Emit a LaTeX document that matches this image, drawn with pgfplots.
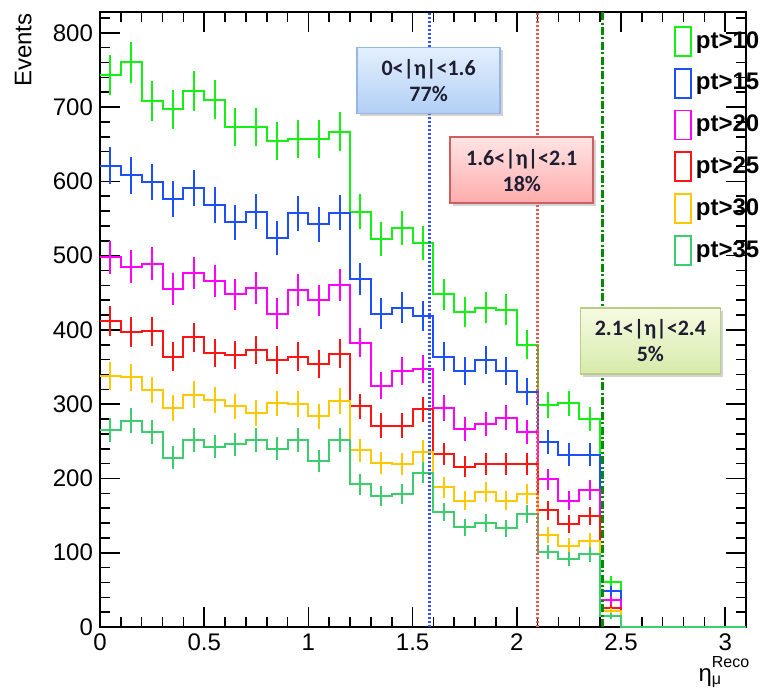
\documentclass[border=0pt]{standalone}
\usepackage{fontspec}
\setmainfont{Liberation Sans}
\newfontfamily\boxfont{Carlito}
\usepackage{pgfplots}
\usepackage{pgfplotstable}
\pgfplotsset{compat=1.18}
\usetikzlibrary{shadows}

\definecolor{c10}{RGB}{20,240,20}
\definecolor{c15}{RGB}{30,80,250}
\definecolor{c20}{RGB}{255,0,255}
\definecolor{c25}{RGB}{255,20,20}
\definecolor{c30}{RGB}{255,200,0}
\definecolor{c35}{RGB}{60,205,110}
\definecolor{lblue}{RGB}{50,80,255}
\definecolor{lred}{RGB}{255,80,80}
\definecolor{lgreen}{RGB}{0,140,0}
\definecolor{boxtext}{RGB}{30,30,50}

% columns: bin low edge, bin centre, entries, error
\pgfplotstableread{
lo c y e
0.0 0.05 743 27.3
0.1 0.15 760 27.6
0.2 0.25 708 26.6
0.3 0.35 697 26.4
0.4 0.45 721 26.9
0.5 0.55 710 26.6
0.6 0.65 673 25.9
0.7 0.75 673 25.9
0.8 0.85 654 25.6
0.9 0.95 657 25.6
1.0 1.05 657 25.6
1.1 1.15 667 25.8
1.2 1.25 559 23.6
1.3 1.35 523 22.9
1.4 1.45 537 23.2
1.5 1.55 517 22.7
1.6 1.65 448 21.2
1.7 1.75 424 20.6
1.8 1.85 430 20.7
1.9 1.95 427 20.7
2.0 2.05 380 19.5
2.1 2.15 299 17.3
2.2 2.25 301 17.3
2.3 2.35 280 16.7
2.4 2.45 61 7.8
2.5 2.55 0 0
3.1 3.15 0 0
}\ptten

\pgfplotstableread{
lo c y e
0.0 0.05 621 24.9
0.1 0.15 608 24.7
0.2 0.25 599 24.5
0.3 0.35 576 24.0
0.4 0.45 591 24.3
0.5 0.55 568 23.8
0.6 0.65 545 23.3
0.7 0.75 559 23.6
0.8 0.85 524 22.9
0.9 0.95 557 23.6
1.0 1.05 542 23.3
1.1 1.15 558 23.6
1.2 1.25 468 21.6
1.3 1.35 422 20.5
1.4 1.45 430 20.7
1.5 1.55 419 20.5
1.6 1.65 364 19.1
1.7 1.75 345 18.6
1.8 1.85 359 18.9
1.9 1.95 345 18.6
2.0 2.05 317 17.8
2.1 2.15 249 15.8
2.2 2.25 232 15.2
2.3 2.35 232 15.2
2.4 2.45 48 6.9
2.5 2.55 0 0
3.1 3.15 0 0
}\ptfifteen

\pgfplotstableread{
lo c y e
0.0 0.05 498 22.3
0.1 0.15 485 22.0
0.2 0.25 489 22.1
0.3 0.35 455 21.3
0.4 0.45 477 21.8
0.5 0.55 466 21.6
0.6 0.65 448 21.2
0.7 0.75 456 21.4
0.8 0.85 422 20.5
0.9 0.95 454 21.3
1.0 1.05 440 21.0
1.1 1.15 461 21.5
1.2 1.25 383 19.6
1.3 1.35 325 18.0
1.4 1.45 345 18.6
1.5 1.55 347 18.6
1.6 1.65 295 17.2
1.7 1.75 267 16.3
1.8 1.85 273 16.5
1.9 1.95 282 16.8
2.0 2.05 262 16.2
2.1 2.15 199 14.1
2.2 2.25 170 13.0
2.3 2.35 184 13.6
2.4 2.45 36 6.0
2.5 2.55 0 0
3.1 3.15 0 0
}\pttwenty

\pgfplotstableread{
lo c y e
0.0 0.05 412 20.3
0.1 0.15 397 19.9
0.2 0.25 398 19.9
0.3 0.35 364 19.1
0.4 0.45 390 19.7
0.5 0.55 369 19.2
0.6 0.65 366 19.1
0.7 0.75 373 19.3
0.8 0.85 359 18.9
0.9 0.95 364 19.1
1.0 1.05 354 18.8
1.1 1.15 368 19.2
1.2 1.25 297 17.2
1.3 1.35 271 16.5
1.4 1.45 271 16.5
1.5 1.55 293 17.1
1.6 1.65 233 15.3
1.7 1.75 216 14.7
1.8 1.85 219 14.8
1.9 1.95 219 14.8
2.0 2.05 219 14.8
2.1 2.15 157 12.5
2.2 2.25 139 11.8
2.3 2.35 150 12.2
2.4 2.45 25 5.0
2.5 2.55 0 0
3.1 3.15 0 0
}\pttwentyfive

\pgfplotstableread{
lo c y e
0.0 0.05 338 18.4
0.1 0.15 336 18.3
0.2 0.25 319 17.9
0.3 0.35 295 17.2
0.4 0.45 313 17.7
0.5 0.55 306 17.5
0.6 0.65 297 17.2
0.7 0.75 288 17.0
0.8 0.85 301 17.3
0.9 0.95 300 17.3
1.0 1.05 284 16.9
1.1 1.15 304 17.4
1.2 1.25 238 15.4
1.3 1.35 221 14.9
1.4 1.45 219 14.8
1.5 1.55 236 15.4
1.6 1.65 188 13.7
1.7 1.75 170 13.0
1.8 1.85 182 13.5
1.9 1.95 170 13.0
2.0 2.05 179 13.4
2.1 2.15 124 11.1
2.2 2.25 109 10.4
2.3 2.35 116 10.8
2.4 2.45 21 4.6
2.5 2.55 0 0
3.1 3.15 0 0
}\ptthirty

\pgfplotstableread{
lo c y e
0.0 0.05 265 16.3
0.1 0.15 278 16.7
0.2 0.25 262 16.2
0.3 0.35 228 15.1
0.4 0.45 252 15.9
0.5 0.55 243 15.6
0.6 0.65 246 15.7
0.7 0.75 252 15.9
0.8 0.85 240 15.5
0.9 0.95 252 15.9
1.0 1.05 223 14.9
1.1 1.15 252 15.9
1.2 1.25 192 13.9
1.3 1.35 176 13.3
1.4 1.45 179 13.4
1.5 1.55 208 14.4
1.6 1.65 155 12.4
1.7 1.75 134 11.6
1.8 1.85 140 11.8
1.9 1.95 133 11.5
2.0 2.05 152 12.3
2.1 2.15 101 10.0
2.2 2.25 91 9.5
2.3 2.35 98 9.9
2.4 2.45 15 3.9
2.5 2.55 0 0
3.1 3.15 0 0
}\ptthirtyfive

\pgfplotsset{
  histo/.style={#1, line width=1pt, const plot},
  errs/.style={forget plot, draw=none, mark=none,
    error bars/.cd, y dir=both, y explicit, error mark=none,
    error bar style={draw=#1, line width=1pt, solid}},
}

\begin{document}
\begin{tikzpicture}
\begin{axis}[
  scale only axis, width=323pt, height=307.5pt,
  xmin=0, xmax=3.1, ymin=0, ymax=828,
  xtick={0,0.5,...,3}, ytick={0,100,...,800},
  minor xtick={0,0.1,...,3.1}, minor ytick={0,20,...,820},
  tick align=inside, major tick length=10pt, minor tick length=5pt,
  axis line style={line width=0.8pt},
  every tick/.style={black, line width=0.8pt},
  tick label style={font=\fontsize{12}{14}\selectfont},
  /pgf/number format/assume math mode=true,
  legend cell align=left,
  legend image code/.code={\draw[#1, line width=0.9pt] (0pt,-7.25pt) rectangle (8pt,7.25pt);},
  legend style={at={(rel axis cs:0.888,0.978)}, anchor=north west,
    draw=none, fill=none, inner sep=0pt, row sep=5.5pt,
    font=\bfseries\fontsize{12}{14}\selectfont},
]
\addplot[histo=c10] table[x=lo, y=y] {\ptten};
\addlegendentry{pt>10}
\addplot[errs=c10] table[x=c, y=y, y error=e] {\ptten};
\addplot[histo=c15] table[x=lo, y=y] {\ptfifteen};
\addlegendentry{pt>15}
\addplot[errs=c15] table[x=c, y=y, y error=e] {\ptfifteen};
\addplot[histo=c20] table[x=lo, y=y] {\pttwenty};
\addlegendentry{pt>20}
\addplot[errs=c20] table[x=c, y=y, y error=e] {\pttwenty};
\addplot[histo=c25] table[x=lo, y=y] {\pttwentyfive};
\addlegendentry{pt>25}
\addplot[errs=c25] table[x=c, y=y, y error=e] {\pttwentyfive};
\addplot[histo=c30] table[x=lo, y=y] {\ptthirty};
\addlegendentry{pt>30}
\addplot[errs=c30] table[x=c, y=y, y error=e] {\ptthirty};
\addplot[histo=c35] table[x=lo, y=y] {\ptthirtyfive};
\addlegendentry{pt>35}
\addplot[errs=c35] table[x=c, y=y, y error=e] {\ptthirtyfive};

% region boundaries
\addplot[forget plot, lblue, line width=1.3pt, dash pattern=on 1pt off 1pt]
  coordinates {(1.58,0) (1.58,828)};
\addplot[forget plot, lred, line width=1.3pt, dash pattern=on 1pt off 1pt]
  coordinates {(2.1,0) (2.1,828)};
\addplot[forget plot, lgreen, line width=1.7pt, dash pattern=on 4pt off 1.2pt on 1pt off 1.2pt]
  coordinates {(2.41,0) (2.41,828)};

\tikzset{regbox/.style={minimum width=71.5pt, minimum height=33pt, align=center,
  inner sep=0pt, line width=0.8pt, text=boxtext,
  font=\boxfont\bfseries\fontsize{11}{13}\selectfont,
  drop shadow={opacity=0.35, shadow xshift=1.5pt, shadow yshift=-1.5pt}}}
\node[regbox, top color={rgb,255:red,228;green,240;blue,253}, bottom color={rgb,255:red,178;green,207;blue,246},
  draw={rgb,255:red,150;green,182;blue,228}] at (axis cs:1.577,736) {0<|η|<1.6\\77\%};
\node[regbox, top color={rgb,255:red,255;green,228;blue,228}, bottom color={rgb,255:red,255;green,172;blue,172},
  draw={rgb,255:red,205;green,95;blue,95}] at (axis cs:2.024,615) {1.6<|η|<2.1\\18\%};
\node[regbox, minimum width=70pt, top color={rgb,255:red,246;green,251;blue,225}, bottom color={rgb,255:red,214;green,234;blue,170},
  draw={rgb,255:red,185;green,205;blue,135}] at (axis cs:2.641,385) {2.1<|η|<2.4\\5\%};
\end{axis}

\node[rotate=90, anchor=south east, inner sep=0pt, font=\fontsize{12}{14}\selectfont]
  at ([xshift=-34pt, yshift=-0.5pt]current axis.north west) {Events};
\node[anchor=base east, inner sep=0pt, font=\fontsize{12}{14}\selectfont]
  at ([xshift=2pt, yshift=-27pt]current axis.south east)
  {η\rlap{\raisebox{7pt}{\fontsize{8}{9}\selectfont Reco}}\raisebox{-1.5pt}{\fontsize{8}{9}\selectfont μ}\hphantom{\fontsize{8}{9}\selectfont Rec}};

\path (current axis.south west) ++(-50pt,-30pt) coordinate (bbl);
\path (current axis.north east) ++(8.5pt,6pt) coordinate (btr);
\pgfresetboundingbox
\useasboundingbox (bbl) rectangle (btr);
\end{tikzpicture}
\end{document}
